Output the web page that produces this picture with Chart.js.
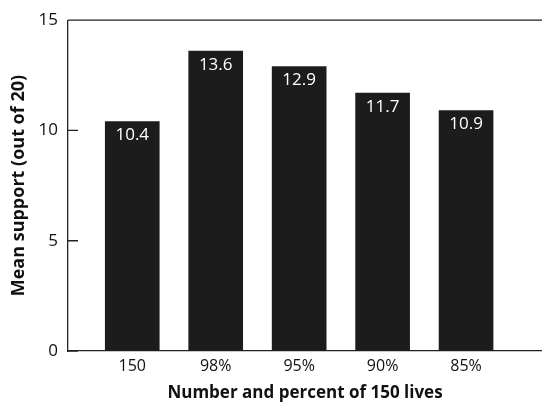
<!DOCTYPE html>
<html>
<head>
<meta charset="utf-8">
<script src="https://cdn.jsdelivr.net/npm/chart.js@4"></script>
<style>
  html, body { margin: 0; padding: 0; background: #fff; }
  #wrap { width: 542px; height: 407px; }
</style>
</head>
<body>
<div id="wrap"><canvas id="chart"></canvas></div>
<script>
// Chart data
const categories = ['150', '98%', '95%', '90%', '85%'];
const meanSupport = [10.4, 13.6, 12.9, 11.7, 10.9];
const yTicks = [0, 5, 10, 15];

const fontFamily = '"Open Sans", "Noto Sans", sans-serif';

// inward y ticks, top frame line and value labels
const decorations = {
    id: 'decorations',
    afterDatasetsDraw(chart) {
        const ctx = chart.ctx;
        const area = chart.chartArea;
        const y = chart.scales.y;
        ctx.save();
        ctx.strokeStyle = '#222';
        ctx.lineWidth = 1.3;
        ctx.beginPath();
        ctx.moveTo(area.left, area.top);
        ctx.lineTo(area.right, area.top);
        yTicks.forEach(t => {
            const py = y.getPixelForValue(t);
            ctx.moveTo(area.left, py);
            ctx.lineTo(area.left + 10, py);
        });
        ctx.stroke();

        ctx.fillStyle = '#fff';
        ctx.font = '17px ' + fontFamily;
        ctx.textAlign = 'center';
        ctx.textBaseline = 'middle';
        chart.getDatasetMeta(0).data.forEach((bar, i) => {
            ctx.fillText(meanSupport[i].toFixed(1), bar.x, bar.y + 14);
        });
        ctx.restore();
    }
};

new Chart(document.getElementById('chart'), {
    type: 'bar',
    data: {
        datasets: [{
            data: meanSupport.map((v, i) => ({ x: i, y: v })),
            backgroundColor: '#1c1c1c',
            barThickness: 54
        }]
    },
    options: {
        responsive: true,
        maintainAspectRatio: false,
        animation: false,
        layout: { padding: { top: 15, right: 0, left: 0, bottom: 0 } },
        plugins: { legend: { display: false }, tooltip: { enabled: false } },
        scales: {
            x: {
                type: 'linear',
                offset: false,
                min: -0.77,
                max: 4.91,
                grid: { display: false, drawTicks: false },
                border: { display: true, color: '#222', width: 1.3 },
                afterBuildTicks: scale => { scale.ticks = categories.map((c, i) => ({ value: i })); },
                afterFit: scale => { scale.height = 56; },
                ticks: {
                    padding: 6,
                    color: '#111',
                    font: { family: fontFamily, size: 16 },
                    callback: v => categories[v]
                },
                title: {
                    display: true,
                    text: 'Number and percent of 150 lives',
                    color: '#111',
                    font: { family: fontFamily, size: 17, weight: 'bold' },
                    padding: { top: 2, bottom: 4 }
                }
            },
            y: {
                min: 0,
                max: 15,
                grid: { display: false, drawTicks: false },
                border: { display: true, color: '#222', width: 1.3 },
                afterBuildTicks: scale => { scale.ticks = yTicks.map(v => ({ value: v })); },
                afterFit: scale => { scale.width = 68; },
                ticks: {
                    padding: 10,
                    color: '#111',
                    font: { family: fontFamily, size: 17 }
                },
                title: {
                    display: true,
                    text: 'Mean support (out of 20)',
                    color: '#111',
                    font: { family: fontFamily, size: 18, weight: 'bold' },
                    padding: { top: 8, bottom: 4 }
                }
            }
        }
    },
    plugins: [decorations]
});
</script>
</body>
</html>
